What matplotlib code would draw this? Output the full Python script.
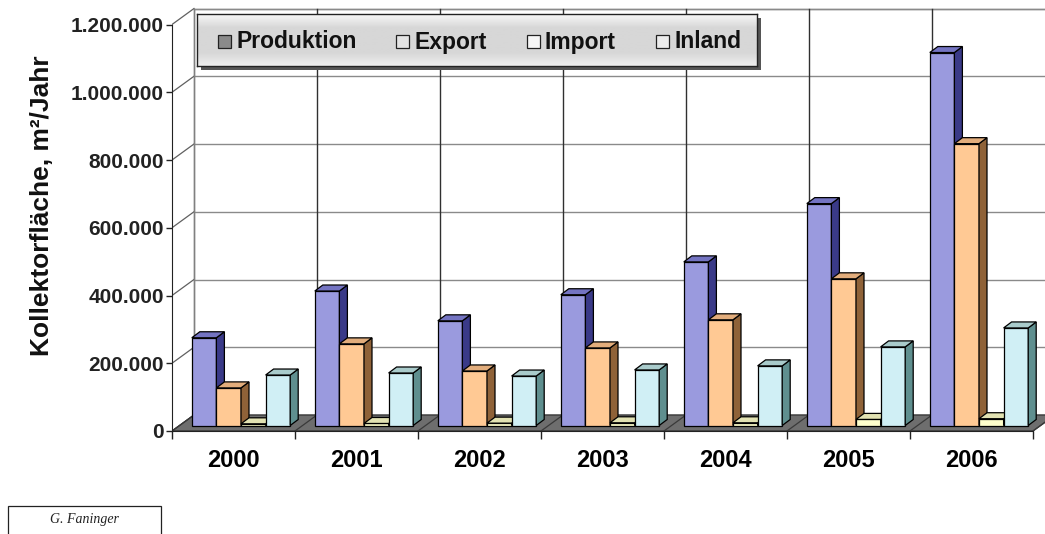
import matplotlib
matplotlib.use("Agg")
import numpy as np
import matplotlib.pyplot as plt
from matplotlib.patches import Polygon, Rectangle
from matplotlib.ticker import FuncFormatter

# ---------------- data ----------------
years = ["2000", "2001", "2002", "2003", "2004", "2005", "2006"]
series_names = ["Produktion", "Export", "Import", "Inland"]
produktion = [259000, 397000, 309000, 386000, 483000, 655000, 1101000]
export = [111000, 241000, 161000, 229000, 312000, 433000, 832000]
importe = [5000, 6000, 7000, 8000, 8000, 18000, 20000]
inland = [149000, 155000, 146000, 164000, 176000, 232000, 288000]
y_ticks = [0, 200000, 400000, 600000, 800000, 1000000, 1200000]
y_label = "Kollektorfläche, m²/Jahr"
credit = "G. Faninger"

# ---------------- styling ----------------
W, H = 1045, 534
FONT = "Liberation Sans"
plt.rcParams["font.family"] = [FONT, "DejaVu Sans"]

face_cols = ["#9a9ade", "#ffc994", "#ffffcc", "#d0eff5"]
side_cols = ["#3a3a88", "#8f6238", "#9c9c6c", "#5f8f8f"]
top_cols = ["#7474c2", "#e2ad7c", "#e2e2b2", "#a9cbcb"]
legend_cols = ["#8a8a8a", "#e4e4e4", "#f6f6f6", "#ececec"]

px_per_cat = 123.0
val_per_px = 200000 / 67.75
x0_px, y0_px = 172, 431

fig = plt.figure(figsize=(W / 100, H / 100), dpi=100)
fig.patch.set_facecolor("white")
ax = fig.add_axes([x0_px / W, 1 - y0_px / H, (W - x0_px) / W, y0_px / H])
ax.set_xlim(0, (W - x0_px) / px_per_cat)
ax.set_ylim(0, y0_px * val_per_px)
ax.patch.set_visible(False)

n = len(years)
ymax = y_ticks[-1]
# wall depth offset and bar geometry (data units)
dxw, dyw = 22 / px_per_cat, 16 * val_per_px
dxb, dyb = 7.5 / px_per_cat, 5.5 * val_per_px
dxd, dyd = 8 / px_per_cat, 6 * val_per_px
bw = 0.2
start = 0.1

# back wall
ax.add_patch(Polygon([(dxw, dyw), (n + dxw, dyw), (n + dxw, ymax + dyw), (dxw, ymax + dyw)],
                     closed=True, facecolor="white", edgecolor="#808080", lw=1.0, zorder=0.5))
for v in y_ticks:
    ax.plot([dxw, n + dxw], [v + dyw, v + dyw], color="#8a8a8a", lw=1.0, zorder=0.6)
    ax.plot([0, dxw], [v, v + dyw], color="#606060", lw=0.9, zorder=0.6)
for k in range(1, n + 1):
    ax.plot([k + dxw, k + dxw], [dyw, ymax + dyw], color="#303030", lw=1.0, zorder=0.6)
ax.plot([dxw, dxw], [dyw, ymax + dyw], color="#808080", lw=1.0, zorder=0.6)

# floor
ax.add_patch(Polygon([(0, 0), (n, 0), (n + dxw, dyw), (dxw, dyw)], closed=True,
                     facecolor="#6e6e6e", edgecolor="#333333", lw=0.9, zorder=1))
for k in range(0, n + 1):
    ax.plot([k, k + dxw], [0, dyw], color="#3a3a3a", lw=0.9, zorder=1.1)

# bars
all_vals = [produktion, export, importe, inland]
for j, vals in enumerate(all_vals):
    xs = [i + start + j * bw + dxb for i in range(n)]
    bars = ax.bar(xs, vals, width=bw, bottom=dyb, align="edge",
                  color=face_cols[j], edgecolor="black", linewidth=0.9)
    for i, b in enumerate(bars):
        z = 2 + (i * 4 + j) * 0.01
        b.set_zorder(z)
        xl, yb = b.get_x(), b.get_y()
        xr, yt = xl + b.get_width(), yb + b.get_height()
        side = Polygon([(xr, yb), (xr + dxd, yb + dyd), (xr + dxd, yt + dyd), (xr, yt)],
                       closed=True, facecolor=side_cols[j], edgecolor="black", lw=0.9, zorder=z)
        top = Polygon([(xl, yt), (xr, yt), (xr + dxd, yt + dyd), (xl + dxd, yt + dyd)],
                      closed=True, facecolor=top_cols[j], edgecolor="black", lw=0.9, zorder=z)
        ax.add_patch(side)
        ax.add_patch(top)

# axes / ticks
for s in ["top", "right"]:
    ax.spines[s].set_visible(False)
ax.spines["left"].set_bounds(0, ymax)
ax.spines["bottom"].set_bounds(0, n)
ax.spines["left"].set_color("#222222")
ax.spines["bottom"].set_color("#222222")
ax.spines["left"].set_zorder(5)
ax.spines["bottom"].set_zorder(5)
ax.set_yticks(y_ticks)
ax.yaxis.set_major_formatter(FuncFormatter(lambda v, p: f"{int(v):,}".replace(",", ".")))
ax.tick_params(axis="y", length=4, width=1, pad=2, labelsize=15, colors="#222222")
for lab in ax.get_yticklabels():
    lab.set_fontweight("bold")
ax.set_xticks(range(0, n + 1))
ax.set_xticklabels([])
ax.set_xticks([i + 0.5 for i in range(n)], labels=years, minor=True)
ax.tick_params(axis="x", which="major", length=6, width=1, direction="out", colors="#222222")
ax.tick_params(axis="x", which="minor", length=0, pad=13, labelsize=17)
for lab in ax.get_xticklabels(minor=True):
    lab.set_fontweight("bold")

# y label
fig.text(42 / W, 1 - 206 / H, y_label, rotation=90, ha="center", va="center",
         fontsize=19, fontweight="bold", color="#111111")

# legend (manual, in pixel coordinates)
def fx(x):
    return x / W

def fy(y):
    return 1 - y / H

lx0, ly0, lx1, ly1 = 197, 14, 757, 66
fig.patches.append(Rectangle((fx(lx0 + 4), fy(ly1 + 4)), fx(lx1 - lx0), (ly1 - ly0) / H,
                             transform=fig.transFigure, facecolor="#555555", edgecolor="none", zorder=10))
lax = fig.add_axes([fx(lx0), fy(ly1), fx(lx1 - lx0), (ly1 - ly0) / H], zorder=11)
grad = np.concatenate([np.linspace(0.97, 0.84, 12), np.full(20, 0.84), np.linspace(0.84, 0.93, 12)])
lax.imshow(grad[:, None], cmap="gray", vmin=0, vmax=1, aspect="auto", extent=(0, 1, 0, 1))
lax.set_xticks([])
lax.set_yticks([])
for s in lax.spines.values():
    s.set_color("#222222")
    s.set_linewidth(1.0)
marker_x = [218, 396, 527, 656]
for j, name in enumerate(series_names):
    mx = marker_x[j]
    lax.add_patch(Rectangle((fx(mx), fy(48)), fx(13), 13 / H, transform=fig.transFigure,
                            facecolor=legend_cols[j], edgecolor="#222222", lw=0.9, zorder=12))
    lax.text(fx(mx + 18), fy(42), name, transform=fig.transFigure, ha="left", va="center",
             fontsize=16.5, fontweight="bold", color="#111111", zorder=12)

# credit box
fig.patches.append(Rectangle((fx(8), fy(545)), fx(153), 39 / H, transform=fig.transFigure,
                             facecolor="white", edgecolor="#222222", lw=0.9, zorder=10))
fig.text(fx(84), fy(520), credit, ha="center", va="center", fontsize=10, style="italic",
         family=["Liberation Serif", "DejaVu Serif"], color="#222222", zorder=11)

fig.savefig("out.png", dpi=100, facecolor="white")
